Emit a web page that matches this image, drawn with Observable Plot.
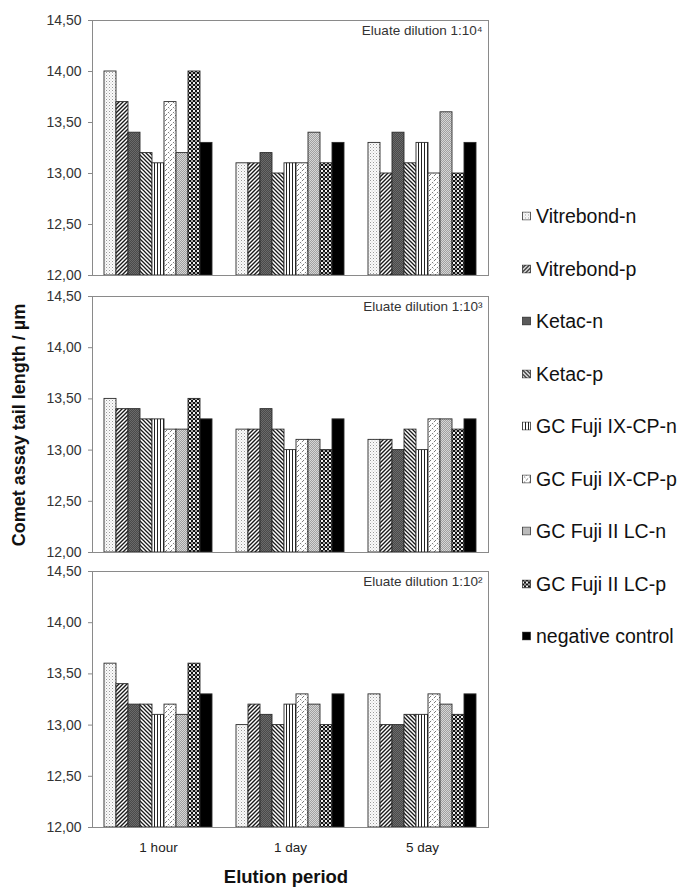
<!DOCTYPE html>
<html><head><meta charset="utf-8">
<script src="https://cdn.jsdelivr.net/npm/d3@7"></script>
<script src="https://cdn.jsdelivr.net/npm/@observablehq/plot@0.6"></script>
<style>
body{margin:0;background:#fff;}
#wrap{position:relative;width:681px;height:891px;font-family:"Liberation Sans",Arial,sans-serif;overflow:hidden;}
#wrap svg.panel{display:block;}
.ylab{position:absolute;left:19px;top:425px;transform:translate(-50%,-50%) rotate(-90deg);white-space:nowrap;font-weight:bold;font-size:18px;color:#111;}
.xlab{position:absolute;left:286px;top:877px;transform:translate(-50%,-50%);white-space:nowrap;font-weight:bold;font-size:18.5px;color:#111;}
.leg{position:absolute;left:522px;display:flex;align-items:center;font-size:19.5px;color:#111;white-space:nowrap;transform:translateY(-50%);}
.leg svg{margin-right:5px;}
</style></head><body>
<svg width="0" height="0" style="position:absolute">
<defs>
<pattern id="pat0" patternUnits="userSpaceOnUse" width="3" height="3"><rect width="3" height="3" fill="#fbfbfb"/><rect x="0" y="0" width="1" height="1" fill="#9a9a9a"/><rect x="1.5" y="1.5" width="1" height="1" fill="#c8c8c8"/></pattern>
<pattern id="pat1" patternUnits="userSpaceOnUse" width="4" height="4"><rect width="4" height="4" fill="#fff"/><path d="M-1,1 l2,-2 M0,4 l4,-4 M3,5 l2,-2" stroke="#1a1a1a" stroke-width="1.4"/></pattern>
<pattern id="pat2" patternUnits="userSpaceOnUse" width="2" height="2"><rect width="2" height="2" fill="#6a6a6a"/><rect x="0" y="0" width="1" height="1" fill="#4a4a4a"/><rect x="1" y="1" width="1" height="1" fill="#4a4a4a"/></pattern>
<pattern id="pat3" patternUnits="userSpaceOnUse" width="4" height="4"><rect width="4" height="4" fill="#fff"/><path d="M-1,3 l2,2 M0,0 l4,4 M3,-1 l2,2" stroke="#1a1a1a" stroke-width="1.3"/></pattern>
<pattern id="pat4" patternUnits="userSpaceOnUse" width="3" height="3"><rect width="3" height="3" fill="#fff"/><rect x="0" y="0" width="1" height="3" fill="#222"/></pattern>
<pattern id="pat5" patternUnits="userSpaceOnUse" width="5" height="5"><rect width="5" height="5" fill="#fff"/><path d="M-1,1 l2,-2 M0,5 l5,-5 M4,6 l2,-2" stroke="#7a7a7a" stroke-width="1" stroke-dasharray="1.6 1.2"/><rect x="3" y="3" width="1" height="1" fill="#d0d0d0"/></pattern>
<pattern id="pat6" patternUnits="userSpaceOnUse" width="2" height="2"><rect width="2" height="2" fill="#d6d6d6"/><rect x="0" y="0" width="1" height="1" fill="#a0a0a0"/><rect x="1" y="1" width="1" height="1" fill="#a0a0a0"/></pattern>
<pattern id="pat7" patternUnits="userSpaceOnUse" width="4" height="4"><rect width="4" height="4" fill="#f0f0f0"/><rect x="0" y="0" width="2" height="2" fill="#111"/><rect x="2" y="2" width="2" height="2" fill="#111"/><rect x="2" y="0" width="2" height="2" fill="#555" opacity="0.5"/></pattern>
<pattern id="pat8" patternUnits="userSpaceOnUse" width="2" height="2"><rect width="2" height="2" fill="#000"/></pattern>
</defs>
</svg>
<div id="wrap"></div>
<script>
// ---- data ----
const periods = ["1 hour", "1 day", "5 day"];
const series = ["Vitrebond-n", "Vitrebond-p", "Ketac-n", "Ketac-p", "GC Fuji IX-CP-n", "GC Fuji IX-CP-p", "GC Fuji II LC-n", "GC Fuji II LC-p", "negative control"];
const panelLabels = ["Eluate dilution 1:10\u2074", "Eluate dilution 1:10\u00b3", "Eluate dilution 1:10\u00b2"];
const yTicks = [12.0, 12.5, 13.0, 13.5, 14.0, 14.5];
// values [period][series]
const dilution1e4 = [
  [14.0, 13.7, 13.4, 13.2, 13.1, 13.7, 13.2, 14.0, 13.3],
  [13.1, 13.1, 13.2, 13.0, 13.1, 13.1, 13.4, 13.1, 13.3],
  [13.3, 13.0, 13.4, 13.1, 13.3, 13.0, 13.6, 13.0, 13.3]
];
const dilution1e3 = [
  [13.5, 13.4, 13.4, 13.3, 13.3, 13.2, 13.2, 13.5, 13.3],
  [13.2, 13.2, 13.4, 13.2, 13.0, 13.1, 13.1, 13.0, 13.3],
  [13.1, 13.1, 13.0, 13.2, 13.0, 13.3, 13.3, 13.2, 13.3]
];
const dilution1e2 = [
  [13.6, 13.4, 13.2, 13.2, 13.1, 13.2, 13.1, 13.6, 13.3],
  [13.0, 13.2, 13.1, 13.0, 13.2, 13.3, 13.2, 13.0, 13.3],
  [13.3, 13.0, 13.0, 13.1, 13.1, 13.3, 13.2, 13.1, 13.3]
];
const patternIds = ["pat0","pat1","pat2","pat3","pat4","pat5","pat6","pat7","pat8"];

const fmt = d3.formatLocale({decimal: ",", thousands: ".", grouping: [3], currency: ["", ""]}).format(".2f");
const wrap = document.getElementById("wrap");

function panel(vals, label, o) {
  const data = periods.flatMap((p, i) => series.map((s, j) => ({period: p, series: s, value: vals[i][j]})));
  const plot = Plot.plot({
    width: 500, height: o.height,
    marginLeft: 91, marginRight: 11, marginTop: o.mt, marginBottom: o.mb,
    style: {fontFamily: '"Liberation Sans", Arial, sans-serif', fontSize: "13px", color: "#333", overflow: "visible", background: "transparent"},
    fx: {domain: periods, padding: 0, label: null, axis: null},
    x: {domain: series, paddingInner: 0, paddingOuter: 0.72, axis: null},
    y: {domain: [yTicks[0], yTicks[yTicks.length - 1]], axis: null},
    color: {type: "ordinal", domain: series, range: patternIds.map(id => `url(#${id})`)},
    marks: [
      Plot.barY(data, {fx: "period", x: "series", y1: yTicks[0], y2: "value", fill: "series", stroke: "#2a2a2a", strokeWidth: 0.9}),
      Plot.frame({stroke: "#8a8a8a", facet: "super"}),
      Plot.axisY({ticks: yTicks, tickFormat: fmt, tickSize: 4, tickPadding: 7, stroke: "#888", fill: "#333", label: null, fontSize: 14}),
      o.showX ? Plot.axisFx({anchor: "bottom", tickSize: 0, tickPadding: 15, label: null, fontSize: 13.5, fill: "#222"}) : null,
      Plot.text([label], {text: d => d, frameAnchor: "top-right", dx: -6, dy: 5, facet: "super", fontSize: 13.5, fill: "#333"})
    ]
  });
  plot.classList.add("panel");
  return plot;
}

wrap.appendChild(panel(dilution1e4, panelLabels[0], {height: 286, mt: 20, mb: 11, showX: false}));
wrap.appendChild(panel(dilution1e3, panelLabels[1], {height: 276, mt: 10, mb: 10, showX: false}));
wrap.appendChild(panel(dilution1e2, panelLabels[2], {height: 329, mt: 9, mb: 64, showX: true}));

const yl = document.createElement("div"); yl.className = "ylab"; yl.textContent = "Comet assay tail length / \u00b5m"; wrap.appendChild(yl);
const xl = document.createElement("div"); xl.className = "xlab"; xl.textContent = "Elution period"; wrap.appendChild(xl);

const legendTop = 216, legendStep = 52.5;
series.forEach((s, i) => {
  const d = document.createElement("div");
  d.className = "leg";
  d.style.top = (legendTop + i * legendStep) + "px";
  d.innerHTML = `<svg width="9" height="9"><rect x="0.5" y="0.5" width="8" height="8" fill="url(#${patternIds[i]})" stroke="#333" stroke-width="0.8"/></svg>`;
  const t = document.createElement("span"); t.textContent = s; d.appendChild(t);
  wrap.appendChild(d);
});
</script>
</body></html>
